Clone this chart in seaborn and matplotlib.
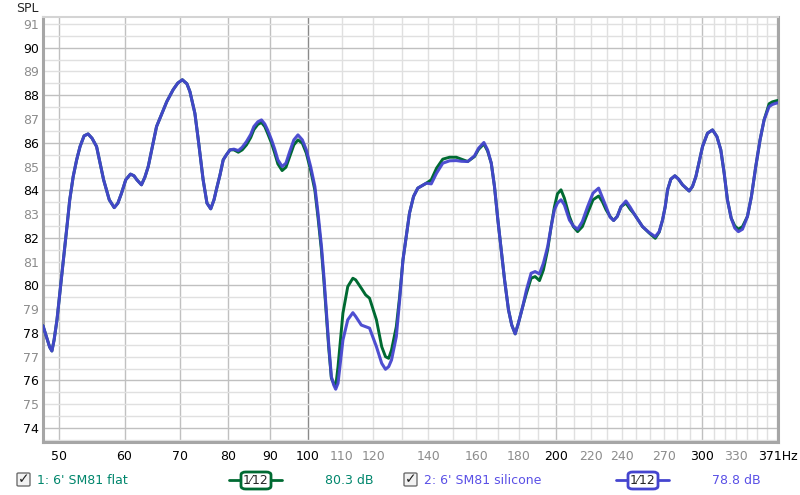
import matplotlib
matplotlib.use("Agg")
import matplotlib.pyplot as plt
import matplotlib.patches as mpatches
import seaborn as sns
import pandas as pd

# frequency (Hz) and SPL (dB)
freq = [47.8, 48.4, 48.7, 49.0, 49.3, 49.7, 50.1, 50.6, 51.1, 51.5,
        52.0, 52.5, 53.0, 53.6, 54.2, 54.8, 55.5, 56.6, 57.5, 58.3,
        58.9, 59.5, 60.2, 61.0, 61.6, 62.1, 62.9, 63.5, 64.1, 65.6,
        67.5, 68.7, 69.6, 70.5, 71.4, 72.0, 73.0, 73.7, 74.2, 74.7,
        75.5, 76.3, 77.0, 77.5, 78.3, 79.0, 79.7, 80.5, 81.4, 82.4,
        83.3, 84.3, 85.3, 86.05, 87.0, 87.9, 88.7, 89.4, 90.4, 91.2,
        92.0, 93.1, 94.1, 95.1, 96.2, 97.3, 98.5, 99.6, 100.8, 102.0,
        102.9, 103.9, 104.6, 105.3, 106.0, 106.8, 107.5, 108.1, 108.8, 110.3,
        111.8, 113.4, 114.3, 116.1, 117.5, 118.8, 121.1, 122.9, 124.2, 125.3,
        126.3, 128.0, 129.2, 130.4, 131.6, 132.8, 134.3, 135.9, 139.2, 141.1,
        143.2, 145.7, 148.5, 151.3, 153.5, 156.2, 159.2, 161.0, 163.4, 165.1,
        166.8, 168.3, 169.9, 171.5, 173.1, 175.0, 176.6, 178.3, 179.9, 182.1,
        184.0, 186.4, 188.5, 190.8, 192.9, 195.2, 197.1, 198.9, 200.6, 202.6,
        204.5, 207.4, 209.7, 212.2, 215.0, 218.2, 221.5, 225.0, 227.3, 229.7,
        232.3, 234.6, 237.0, 239.5, 242.8, 245.7, 248.5, 254.3, 259.1, 263.5,
        266.4, 268.9, 270.9, 272.7, 275.2, 278.3, 281.1, 284.3, 289.6, 292.3,
        295.1, 297.8, 300.6, 304.8, 309.1, 312.9, 316.3, 319.3, 322.2, 325.6,
        328.9, 332.2, 336.0, 340.7, 344.5, 348.7, 352.9, 356.9, 361.9, 365.2,
        368.7, 371.0]

spl_flat = [78.3, 77.7, 77.4, 77.24, 77.7, 78.55, 79.67, 81.07, 82.47, 83.6,
            84.58, 85.28, 85.84, 86.29, 86.37, 86.19, 85.84, 84.44, 83.6, 83.27,
            83.46, 83.88, 84.44, 84.68, 84.61, 84.44, 84.23, 84.55, 85.0, 86.68,
            87.73, 88.23, 88.51, 88.65, 88.48, 88.15, 87.24, 86.12, 85.28, 84.44,
            83.46, 83.22, 83.6, 84.02, 84.65, 85.28, 85.49, 85.70, 85.70, 85.60,
            85.70, 85.91, 86.22, 86.55, 86.77, 86.85, 86.68, 86.40, 85.98, 85.56,
            85.11, 84.83, 84.97, 85.42, 85.91, 86.12, 85.98, 85.56, 84.85, 84.0,
            82.85, 81.45, 80.2, 78.8, 77.4, 76.1, 75.88, 75.74, 76.58, 78.83,
            79.95, 80.30, 80.23, 79.88, 79.60, 79.46, 78.55, 77.42, 77.0, 76.93,
            77.28, 78.26, 79.53, 81.07, 82.05, 83.04, 83.74, 84.09, 84.30, 84.44,
            84.93, 85.31, 85.39, 85.39, 85.31, 85.21, 85.42, 85.72, 85.95, 85.65,
            85.14, 84.16, 82.75, 81.49, 80.23, 78.97, 78.33, 77.96, 78.41, 79.11,
            79.67, 80.30, 80.37, 80.2, 80.65, 81.5, 82.47, 83.3, 83.85, 84.02,
            83.67, 82.90, 82.47, 82.26, 82.47, 83.04, 83.60, 83.76, 83.53, 83.18,
            82.90, 82.73, 82.90, 83.31, 83.46, 83.20, 83.0, 82.47, 82.20, 81.98,
            82.24, 82.75, 83.31, 84.02, 84.47, 84.61, 84.47, 84.23, 83.97, 84.16,
            84.58, 85.21, 85.84, 86.40, 86.54, 86.26, 85.70, 84.72, 83.60, 82.83,
            82.5, 82.36, 82.47, 82.90, 83.74, 85.0, 86.12, 86.96, 87.64, 87.72,
            87.76, 87.78]

spl_silicone = [78.3, 77.7, 77.4, 77.24, 77.7, 78.55, 79.67, 81.07, 82.47, 83.6,
                84.58, 85.28, 85.84, 86.29, 86.37, 86.19, 85.84, 84.44, 83.6, 83.27,
                83.46, 83.88, 84.44, 84.68, 84.61, 84.44, 84.23, 84.55, 85.0, 86.68,
                87.73, 88.23, 88.51, 88.65, 88.48, 88.15, 87.24, 86.12, 85.28, 84.44,
                83.46, 83.22, 83.6, 84.02, 84.65, 85.28, 85.49, 85.70, 85.73, 85.67,
                85.81, 86.05, 86.35, 86.68, 86.88, 86.96, 86.79, 86.54, 86.12, 85.73,
                85.28, 85.0, 85.14, 85.63, 86.12, 86.33, 86.12, 85.70, 85.0, 84.16,
                83.04, 81.63, 80.37, 78.97, 77.56, 76.16, 75.81, 75.63, 75.88, 77.70,
                78.55, 78.85, 78.69, 78.33, 78.26, 78.2, 77.42, 76.72, 76.47, 76.58,
                76.86, 77.84, 79.39, 81.07, 82.05, 83.04, 83.74, 84.09, 84.30, 84.27,
                84.72, 85.14, 85.24, 85.25, 85.22, 85.21, 85.45, 85.77, 86.01, 85.70,
                85.14, 84.16, 82.75, 81.49, 80.23, 78.97, 78.33, 77.96, 78.41, 79.11,
                79.81, 80.51, 80.58, 80.48, 80.93, 81.63, 82.47, 83.18, 83.46, 83.60,
                83.39, 82.75, 82.50, 82.36, 82.68, 83.31, 83.88, 84.09, 83.71, 83.31,
                82.87, 82.73, 82.90, 83.31, 83.55, 83.29, 83.0, 82.47, 82.22, 82.05,
                82.26, 82.75, 83.31, 84.02, 84.47, 84.61, 84.47, 84.23, 83.97, 84.16,
                84.58, 85.21, 85.84, 86.40, 86.54, 86.26, 85.70, 84.72, 83.60, 82.83,
                82.41, 82.26, 82.36, 82.90, 83.74, 85.0, 86.12, 86.96, 87.52, 87.61,
                87.66, 87.68]

x_ticks = [50, 60, 70, 80, 90, 100, 110, 120, 140, 160, 180, 200, 220, 240, 270, 300, 330, 371]
x_major = [50, 60, 70, 80, 90, 100, 200, 300, 371]
x_grid = list(range(50, 371, 10))
y_ticks = list(range(74, 92))

names = ["1: 6' SM81 flat", "2: 6' SM81 silicone"]
levels = ["80.3 dB", "78.8 dB"]
smoothing = "1\u204412"
line_colors = ["#006a32", "#4545cf"]
text_colors = ["#00866c", "#5a50e6"]

W, H = 800, 495

def px(x, y):
    return x / W, 1 - y / H

sns.set_style("white")
plt.rcParams["font.family"] = ["DejaVu Sans"]

fig = plt.figure(figsize=(8, 4.95), dpi=100)
ax = fig.add_axes([43 / W, 53 / H, 735 / W, 425 / H])

df = pd.DataFrame({"freq": freq * 2,
                   "spl": spl_flat + spl_silicone,
                   "series": [names[0]] * len(freq) + [names[1]] * len(freq)})

sns.lineplot(data=df[df.series == names[0]], x="freq", y="spl", color=line_colors[0],
             linewidth=2.1, ax=ax, zorder=3, legend=False)
sns.lineplot(data=df[df.series == names[1]], x="freq", y="spl", color=line_colors[1],
             linewidth=2.2, ax=ax, zorder=4, legend=False, alpha=0.95)

ax.set_xscale("log")
ax.set_xlim(47.8, 371)
ax.set_ylim(73.41, 91.29)

# grid like REW
for f in x_grid:
    if f == 100:
        c = "#8a8a8a"
    elif f in x_major:
        c = "#c0c0c0"
    else:
        c = "#e0e0e0"
    ax.axvline(f, color=c, lw=1, zorder=1)
for v in [73.5 + 0.5 * i for i in range(36)]:
    c = "#c0c0c0" if (v == int(v) and int(v) % 2 == 0) else "#e0e0e0"
    ax.axhline(v, color=c, lw=1, zorder=1)

ax.set_xticks(x_ticks)
ax.set_xticklabels([str(t) if t != 371 else "371Hz" for t in x_ticks])
ax.minorticks_off()
ax.set_yticks(y_ticks)
ax.set_yticklabels([str(t) for t in y_ticks])
ax.tick_params(axis="both", length=0, labelsize=9)
ax.tick_params(axis="x", pad=6)
ax.tick_params(axis="y", pad=3)
for lab, t in zip(ax.get_xticklabels(), x_ticks):
    lab.set_color("black" if t in x_major else "#8c8c8c")
for lab, t in zip(ax.get_yticklabels(), y_ticks):
    lab.set_color("black" if t % 2 == 0 else "#8c8c8c")
ax.set_xlabel("")
ax.set_ylabel("")

for side in ["left", "bottom", "right"]:
    ax.spines[side].set_color("#a6a6a6")
    ax.spines[side].set_linewidth(2.2)
ax.spines["top"].set_color("#d4d4d4")
ax.spines["top"].set_linewidth(1.5)

fig.text(*px(27, 9), "SPL", fontsize=9, ha="center", va="center")

# bottom legend row
groups = [(17, 37, 229, 282, 241, 271, 325), (404, 424, 616, 669, 628, 658, 712)]
for i, (cb, tx, l0, l1, b0, b1, lv) in enumerate(groups):
    fig.patches.append(mpatches.FancyBboxPatch(px(cb, 486), 13 / W, 13 / H,
                       boxstyle="round,pad=0,rounding_size=0.002", transform=fig.transFigure,
                       facecolor="#f2f2f2", edgecolor="#6e6e6e", lw=1))
    fig.text(*px(cb + 7, 479), "\u2713", fontsize=10, ha="center", va="center",
             color="#222222", fontweight="bold")
    fig.text(*px(tx, 480), names[i], fontsize=9, color=text_colors[i], va="center")
    fig.add_artist(plt.Line2D([l0 / W, l1 / W], [1 - 480 / H, 1 - 480 / H],
                              transform=fig.transFigure, color=line_colors[i], lw=2))
    fig.patches.append(mpatches.FancyBboxPatch(px(b0, 489), (b1 - b0) / W, 17 / H,
                       boxstyle="round,pad=0,rounding_size=0.006", transform=fig.transFigure,
                       facecolor="white", edgecolor=line_colors[i], lw=2, zorder=5))
    fig.text(*px((b0 + b1) / 2, 481), smoothing, fontsize=9,
             ha="center", va="center", zorder=6)
    fig.text(*px(lv, 480), levels[i], fontsize=9, color=text_colors[i], va="center")

fig.savefig("out.png", dpi=100)
